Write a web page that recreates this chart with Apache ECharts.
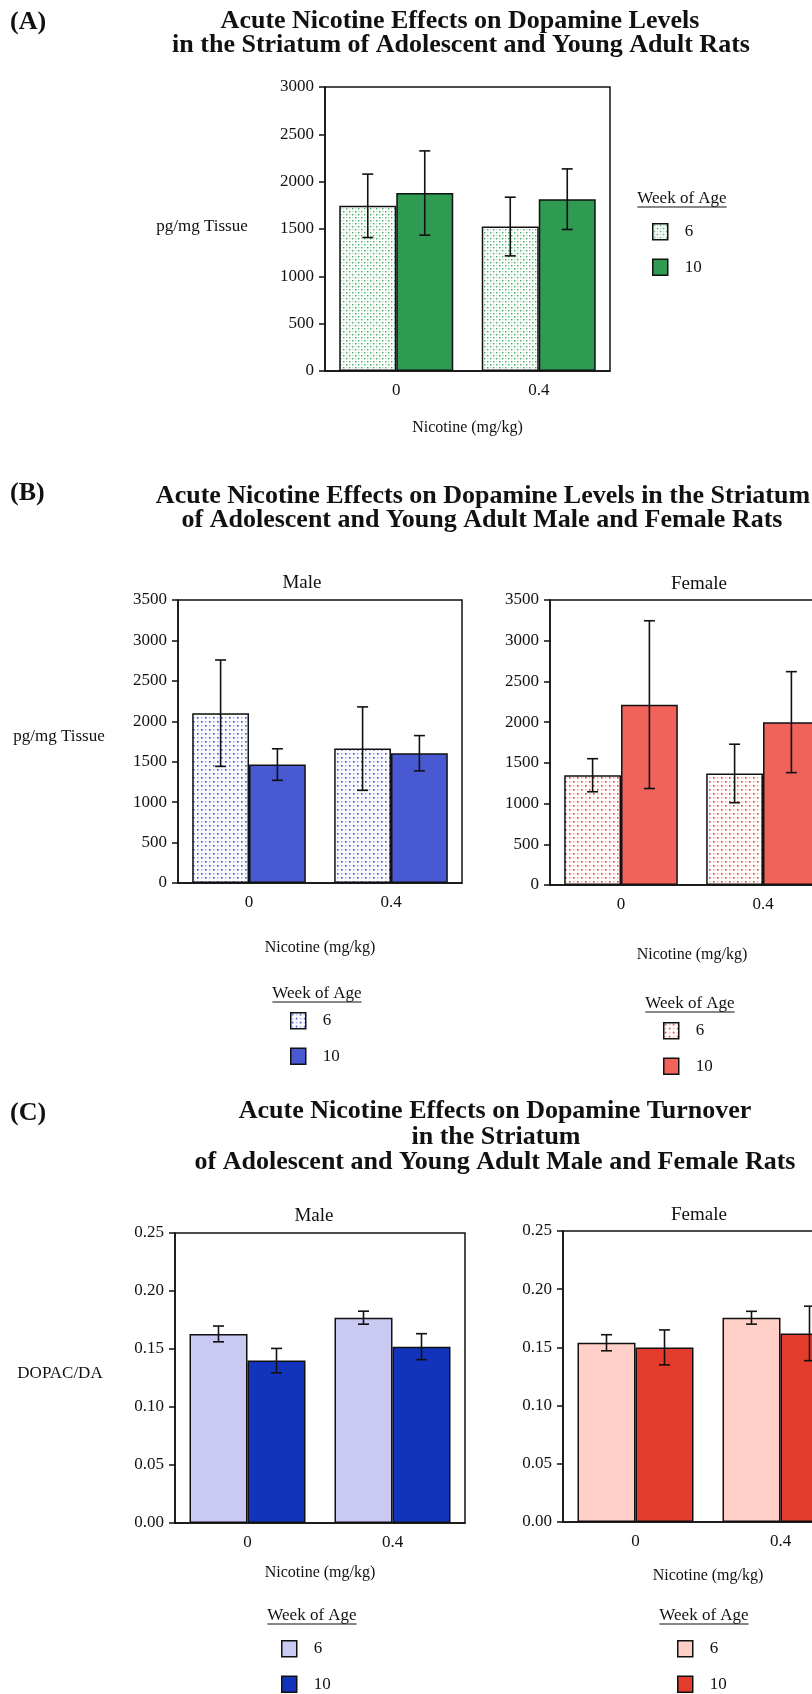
<!DOCTYPE html>
<html>
<head>
<meta charset="utf-8">
<script src="https://cdn.jsdelivr.net/npm/echarts@6/dist/echarts.min.js"></script>
<style>
  html, body { margin: 0; padding: 0; background: #fff; overflow: hidden; width: 812px; height: 1694px; }
  /* the canvas runs past the right page edge so the female panels are cut off there */
  #chart { width: 880px; height: 1694px; }
</style>
</head>
<body>
<div id="chart"></div>
<script>
// ---- data -------------------------------------------------------------
const doseCategories = ['0', '0.4'];          // nicotine dose, mg/kg
const weekLabels = ['6', '10'];               // week of age

// (A) dopamine, pg/mg tissue (mean and SEM)
const aMean6 = [1745, 1526];
const aSem6 = [335, 310];
const aMean10 = [1880, 1815];
const aSem10 = [445, 320];

// (B) dopamine by sex, pg/mg tissue
const bMaleMean6 = [2100, 1662];
const bMaleSem6 = [658, 516];
const bMaleMean10 = [1465, 1605];
const bMaleSem10 = [195, 218];
const bFemaleMean6 = [1348, 1370];
const bFemaleSem6 = [203, 359];
const bFemaleMean10 = [2215, 2000];
const bFemaleSem10 = [1030, 620];

// (C) dopamine turnover, DOPAC/DA ratio
const cMaleMean6 = [0.163, 0.177];
const cMaleSem6 = [0.0068, 0.0056];
const cMaleMean10 = [0.140, 0.152];
const cMaleSem10 = [0.0105, 0.0112];
const cFemaleMean6 = [0.154, 0.1755];
const cFemaleSem6 = [0.0069, 0.0055];
const cFemaleMean10 = [0.150, 0.162];
const cFemaleSem10 = [0.015, 0.0234];

// value-axis ranges [min, max, interval]
const aAxisRange = [0, 3000, 500];
const bAxisRange = [0, 3500, 500];
const cAxisRange = [0, 0.25, 0.05];

// ---- styling helpers --------------------------------------------------
const FONT = '"Liberation Serif", "Times New Roman", Times, serif';
const INK = '#111';

function dotPattern(size, dots) {
  const c = document.createElement('canvas');
  c.width = size; c.height = size;
  const g = c.getContext('2d');
  g.fillStyle = '#fff';
  g.fillRect(0, 0, size, size);
  dots.forEach(([x, y, w, col]) => { g.fillStyle = col; g.fillRect(x, y, w, w); });
  return { image: c, repeat: 'repeat' };
}

const greenDots = dotPattern(6, [
  [1, 1, 1.4, '#3fa862'], [4, 4, 1.4, '#3fa862'],
  [4, 1, 1.4, '#b9dfc3'], [1, 4, 1.4, '#b9dfc3']
]);
const blueDots = dotPattern(8, [
  [1, 1, 1.6, '#2f45e0'], [5, 5, 1.6, '#2f45e0'],
  [5, 1, 1.6, '#aab6f2'], [1, 5, 1.6, '#aab6f2']
]);
const redDots = dotPattern(8, [
  [1, 1, 1.6, '#ee2b22'], [5, 5, 1.6, '#ee2b22'],
  [5, 1, 1.6, '#f8b2aa'], [1, 5, 1.6, '#f8b2aa']
]);

const GREEN = '#2f9a52';
const BLUE_B = '#4859d2';
const RED_B = '#f0625a';
const LAV = '#c9c9f1';
const BLUE_C = '#1234bc';
const PINK = '#ffcfc8';
const RED_C = '#e33c2c';

const barBorder = { borderColor: INK, borderWidth: 1.5 };

function barSeries(name, gridIdx, values, fill) {
  return {
    type: 'bar', name, xAxisIndex: gridIdx, yAxisIndex: gridIdx,
    data: values, barGap: '0%', barCategoryGap: '20%',
    itemStyle: Object.assign({ color: fill }, barBorder),
    emphasis: { disabled: true }, z: 2
  };
}

// mean ± SEM whiskers, shifted to the centre of the 6- or 10-week bar
function errorSeries(gridIdx, means, sems, shift) {
  return {
    type: 'custom', name: 'sem', xAxisIndex: gridIdx, yAxisIndex: gridIdx, z: 5,
    data: means.map((m, i) => [i, m, sems[i]]),
    encode: { x: 0, y: 1 },
    silent: true,
    renderItem: (params, api) => {
      const i = api.value(0), m = api.value(1), s = api.value(2);
      const band = api.size([1, 0])[0];
      const x = api.coord([i, m])[0] + shift * band;
      const yTop = api.coord([i, m + s])[1];
      const yBot = api.coord([i, m - s])[1];
      const half = 5.5;
      const style = { stroke: INK, lineWidth: 1.6 };
      return {
        type: 'group', children: [
          { type: 'line', shape: { x1: x, y1: yTop, x2: x, y2: yBot }, style },
          { type: 'line', shape: { x1: x - half, y1: yTop, x2: x + half, y2: yTop }, style },
          { type: 'line', shape: { x1: x - half, y1: yBot, x2: x + half, y2: yBot }, style }
        ]
      };
    }
  };
}

function panelSeries(gridIdx, m6, s6, f6, m10, s10, f10) {
  return [
    barSeries(weekLabels[0], gridIdx, m6, f6),
    barSeries(weekLabels[1], gridIdx, m10, f10),
    errorSeries(gridIdx, m6, s6, -0.2),
    errorSeries(gridIdx, m10, s10, 0.2)
  ];
}

const axisLineStyle = { color: INK, width: 1.5 };

function xAxisFor(gridIdx, nameGap) {
  return {
    type: 'category', gridIndex: gridIdx, data: doseCategories,
    axisLine: { lineStyle: axisLineStyle },
    axisTick: { alignWithLabel: true, length: 7, lineStyle: axisLineStyle },
    axisLabel: { fontFamily: FONT, fontSize: 17, color: INK, margin: 11 },
    name: 'Nicotine (mg/kg)', nameLocation: 'middle', nameGap,
    nameTextStyle: { fontFamily: FONT, fontSize: 16, color: INK }
  };
}

function yAxisFor(gridIdx, range, digits) {
  return {
    type: 'value', gridIndex: gridIdx,
    min: range[0], max: range[1], interval: range[2],
    axisLine: { show: true, lineStyle: axisLineStyle },
    axisTick: { show: true, length: 6, lineStyle: axisLineStyle },
    splitLine: { show: false },
    axisLabel: {
      fontFamily: FONT, fontSize: 17, color: INK, margin: 11,
      formatter: v => digits ? v.toFixed(digits) : String(v)
    }
  };
}

function gridBox(left, top, width, height) {
  return { left, top, width, height, show: true, borderColor: INK, borderWidth: 1.5, backgroundColor: 'transparent' };
}

function legendFor(left, top, fill6, fill10) {
  return {
    orient: 'vertical', left, top, padding: 0,
    itemWidth: 15, itemHeight: 16, itemGap: 18, icon: 'rect',
    selectedMode: false,
    textStyle: { fontFamily: FONT, fontSize: 17, color: INK, lineHeight: 16, padding: [0, 0, 0, 12] },
    data: [
      { name: weekLabels[0], itemStyle: Object.assign({ color: fill6 }, barBorder) },
      { name: weekLabels[1], itemStyle: Object.assign({ color: fill10 }, barBorder) }
    ]
  };
}

// ---- free text (titles, facet labels, axis captions, legend headings) ----
const measure = document.createElement('canvas').getContext('2d');
function textEl(text, x, y, size, bold, align) {
  return {
    type: 'text', x, y, silent: true,
    style: {
      text, fill: INK,
      font: (bold ? 'bold ' : '') + size + 'px ' + FONT,
      align: align || 'center', verticalAlign: 'middle',
      textAlign: align || 'center', textVerticalAlign: 'middle'
    }
  };
}
function underlinedHeading(text, cx, cy) {
  measure.font = '17px ' + FONT;
  const w = measure.measureText(text).width;
  return [
    textEl(text, cx, cy, 17, false),
    { type: 'line', silent: true, shape: { x1: cx - w / 2, y1: cy + 8, x2: cx + w / 2, y2: cy + 8 }, style: { stroke: INK, lineWidth: 1.2 } }
  ];
}

const titleA = ['Acute Nicotine Effects on Dopamine Levels', 'in the Striatum of Adolescent and Young Adult Rats'];
const titleB = ['Acute Nicotine Effects on Dopamine Levels in the Striatum', 'of Adolescent and Young Adult Male and Female Rats'];
const titleC = ['Acute Nicotine Effects on Dopamine Turnover', 'in the Striatum', 'of Adolescent and Young Adult Male and Female Rats'];

const graphics = [
  textEl('(A)', 10, 22, 26, true, 'left'),
  textEl('(B)', 10, 493, 26, true, 'left'),
  textEl('(C)', 10, 1113, 26, true, 'left'),
  textEl(titleA[0], 460, 21, 26, true),
  textEl(titleA[1], 461, 45, 26, true),
  textEl(titleB[0], 483, 496, 26, true),
  textEl(titleB[1], 482, 520, 26, true),
  textEl(titleC[0], 495, 1111, 26, true),
  textEl(titleC[1], 496, 1137, 26, true),
  textEl(titleC[2], 495, 1162, 26, true),
  textEl('Male', 302, 583, 19, false),
  textEl('Female', 699, 584, 19, false),
  textEl('Male', 314, 1216, 19, false),
  textEl('Female', 699, 1215, 19, false),
  textEl('pg/mg Tissue', 202, 227, 17, false),
  textEl('pg/mg Tissue', 59, 737, 17, false),
  textEl('DOPAC/DA', 60, 1374, 17, false),
  ...underlinedHeading('Week of Age', 682, 199),
  ...underlinedHeading('Week of Age', 317, 994),
  ...underlinedHeading('Week of Age', 690, 1004),
  ...underlinedHeading('Week of Age', 312, 1616),
  ...underlinedHeading('Week of Age', 704, 1616)
];

const option = {
  animation: false,
  backgroundColor: '#fff',
  grid: [
    gridBox(325, 87, 285, 284),     // A
    gridBox(178, 600, 284, 283),    // B male
    gridBox(550, 600, 284, 285),    // B female
    gridBox(175, 1233, 290, 290),   // C male
    gridBox(563, 1231, 290, 291)    // C female
  ],
  xAxis: [
    xAxisFor(0, 49), xAxisFor(1, 57), xAxisFor(2, 62), xAxisFor(3, 42), xAxisFor(4, 46)
  ],
  yAxis: [
    yAxisFor(0, aAxisRange, 0), yAxisFor(1, bAxisRange, 0), yAxisFor(2, bAxisRange, 0),
    yAxisFor(3, cAxisRange, 2), yAxisFor(4, cAxisRange, 2)
  ],
  legend: [
    legendFor(652, 223, greenDots, GREEN),
    legendFor(290, 1012, blueDots, BLUE_B),
    legendFor(663, 1022, redDots, RED_B),
    legendFor(281, 1640, LAV, BLUE_C),
    legendFor(677, 1640, PINK, RED_C)
  ],
  series: [
    ...panelSeries(0, aMean6, aSem6, greenDots, aMean10, aSem10, GREEN),
    ...panelSeries(1, bMaleMean6, bMaleSem6, blueDots, bMaleMean10, bMaleSem10, BLUE_B),
    ...panelSeries(2, bFemaleMean6, bFemaleSem6, redDots, bFemaleMean10, bFemaleSem10, RED_B),
    ...panelSeries(3, cMaleMean6, cMaleSem6, LAV, cMaleMean10, cMaleSem10, BLUE_C),
    ...panelSeries(4, cFemaleMean6, cFemaleSem6, PINK, cFemaleMean10, cFemaleSem10, RED_C)
  ],
  graphic: graphics
};

const chart = echarts.init(document.getElementById('chart'), null, { renderer: 'canvas' });
chart.setOption(option);
</script>
</body>
</html>
